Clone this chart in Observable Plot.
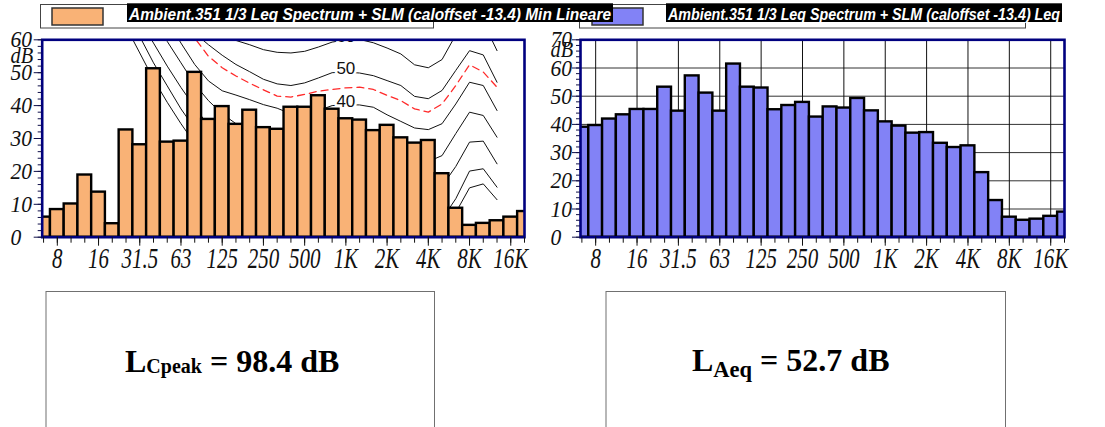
<!DOCTYPE html>
<html><head><meta charset="utf-8">
<script src="https://cdn.jsdelivr.net/npm/d3@7"></script>
<script src="https://cdn.jsdelivr.net/npm/@observablehq/plot@0.6"></script>
<style>
html,body{margin:0;padding:0;background:#fff;}
body{width:1105px;height:427px;overflow:hidden;position:relative;}
.abs{position:absolute;}
svg{overflow:visible;}
</style></head><body>
<div id="left" class="abs" style="left:0;top:0"></div>
<div id="right" class="abs" style="left:540px;top:0"></div>
<svg id="overlay" class="abs" width="1105" height="427" style="left:0;top:0;pointer-events:none"></svg>
<script>
// ---------------- data ----------------
const bands = ["6.3","8","10","12.5","16","20","25","31.5","40","50","63","80","100","125","160","200","250","315","400","500","630","800","1K","1.25K","1.6K","2K","2.5K","3.15K","4K","5K","6.3K","8K","10K","12.5K","16K","20K"];
const octaveLabels = ["8","16","31.5","63","125","250","500","1K","2K","4K","8K","16K"];
const minLineare = [6.1,8.4,10.1,18.9,13.7,4.1,32.6,28.1,51.2,28.9,29.2,50.1,35.8,39.7,34.3,38.6,33.3,32.8,39.5,39.5,43.0,38.9,36.0,35.6,32.4,34.0,30.2,28.6,29.4,19.3,8.8,3.6,4.2,5.0,6.1,7.8];
const leq = [39.0,39.6,41.9,43.4,45.3,45.3,53.2,44.7,57.2,51.1,44.7,61.4,53.2,52.9,45.2,46.7,47.8,42.6,46.2,45.8,49.2,44.8,40.9,39.4,36.9,37.1,33.3,31.8,32.4,22.9,13.0,7.1,6.0,6.4,7.4,8.9];
// equal-loudness style contours, 20 Hz .. 12.5 kHz
const contourBands = ["20","25","31.5","40","50","63","80","100","125","160","200","250","315","400","500","630","800","1K","1.25K","1.6K","2K","2.5K","3.15K","4K","5K","6.3K","8K","10K","12.5K"];
const phon60 = [104,97,90,83,77,71,66,63,61,59.8,58.5,57.0,56.2,56.0,56.5,57.8,59.3,60.0,60.1,59.1,57.5,55.7,52.4,51.5,54.0,61.5,66.7,65.4,56.7];
const phon50 = [98,90,83,76,70,65.5,62,58.5,55.3,52.5,50.3,48.0,46.6,46.1,46.9,48.4,50.0,50.2,49.9,49.1,47.6,46.1,42.8,42.1,44.6,50.7,56.7,55.4,47.1];
const redCurve = [95,88,81,75,70,66,60.5,55,51.5,49,46.8,44.8,42.9,42.6,43.4,44.4,44.9,45.4,45.6,44.9,43.1,41.5,39.0,38.0,40.5,46.1,52.4,50.2,45.6];
const phon40 = [92,84,77,71.5,66,59,52.5,47.5,44.5,43.2,41.8,40.3,39.2,37.5,37.5,38.5,40.0,40.3,40.2,39.5,37.2,35.2,33.2,32.7,34.5,40.5,47.1,46.1,38.5];
const phon30 = [87,79,72,65,59.5,53,46.5,41.5,37.5,34.5,32.5,31,29.5,28.5,28,28.8,30,30.2,30,29.2,27.5,25.5,23.5,23.0,24.8,31.5,38,37,30.4];
const phon20 = [82,74,66,59,52,45.5,39.5,34,29.5,26,23.5,21.5,20,19,18.5,19,20,20.2,20,19,17.5,15.5,13.5,13,15.5,21.5,28.9,29.2,22.3];
const phon10 = [77,69,61,53,46,39,33,27,22.5,18.5,15.5,13.5,12,10.5,10,10,10,10.2,10,9,7.5,5.5,3.5,3,5.5,11.7,20.1,20.8,15.2];
const threshold = [73,64,56,48,41,34.5,28.5,23,18.5,14.5,11.5,9.5,8,6.5,5.5,5,5,5,5,4,2.5,0.5,-1,-1.5,0.5,7.5,15,16.2,11.4];
const contourLabels = [{band:"1K", curve:"60"},{band:"1K", curve:"50"},{band:"1K", curve:"40"}];
const legendLeft = "Ambient.351 1/3 Leq Spectrum + SLM (caloffset -13.4) Min Lineare";
const legendRight = "Ambient.351 1/3 Leq Spectrum + SLM (caloffset -13.4) Leq";

// ---------------- helpers ----------------
const idx = new Map(bands.map((b,i)=>[b,i]));
const allIdx = bands.map((b,i)=>i);
const majorIdx = octaveLabels.map(l=>idx.get(l));
const navy = "#00007f";
const orange = "#f9b276", blue = "#8282f6";
const serif = "Liberation Serif, Times New Roman, serif";
const barData = vals => vals.map((v,i)=>({i, v}));
const curveData = arr => contourBands.map((b,k)=>({i: idx.get(b), v: arr[k]}));
const curves = {"60":phon60,"50":phon50,"40":phon40};

// horizontally condense text glyphs (keeps anchor position)
function squeeze(svg, label, s){
  svg.querySelectorAll(`text[aria-label="${label}"]`).forEach(t=>{
    let tr = t.getAttribute("transform") || "";
    const x = t.getAttribute("x");
    if (x !== null && !/em$/.test(x)) { tr = `translate(${x},0) ` + tr; t.removeAttribute("x"); }
    const y = t.getAttribute("y");
    if (y !== null && !/em$/.test(y)) { tr = `translate(0,${y}) ` + tr; t.removeAttribute("y"); }
    t.setAttribute("transform", tr + ` scale(${s},1)`);
  });
}

function chart({values, yMax, fill, marginLeft, contours, grid}){
  const yTicks = d3.range(0, yMax+1, 10);
  const marks = [];
  if (grid) {
    marks.push(Plot.ruleY(yTicks.filter(d=>d>0 && d<yMax), {y:d=>d, stroke:"#333", strokeWidth:1}));
    marks.push(Plot.ruleX(majorIdx, {x:d=>d, stroke:"#111", strokeWidth:1}));
  }
  if (contours) {
    for (const arr of [threshold, phon10, phon20, phon30, phon40, phon50, phon60])
      marks.push(Plot.line(curveData(arr), {x:"i", y:"v", stroke:"#111", strokeWidth:1, clip:true}));
    marks.push(Plot.line(curveData(redCurve), {x:"i", y:"v", stroke:"#ff2a2a", strokeWidth:1.3, strokeDasharray:"7,5", clip:true}));
    marks.push(Plot.text(contourLabels, {x:d=>idx.get(d.band), y:d=>curves[d.curve][contourBands.indexOf(d.band)], text:"curve",
      lineAnchor:"bottom", dy:2, fontSize:17, fontFamily:"Liberation Sans, Arial, sans-serif", fill:"#111",
      stroke:"white", strokeWidth:5, clip:true}));
  }
  marks.push(Plot.rect(barData(values), {x1:d=>d.i-0.5, x2:d=>d.i+0.5, y1:0, y2:"v", fill, stroke:"#000", strokeWidth:2.4, clip:true}));
  marks.push(Plot.frame({stroke:navy, strokeWidth:2.6}));
  marks.push(Plot.axisX(allIdx, {tickSize:6, tickFormat:()=>"", stroke:"#111", label:null}));
  marks.push(Plot.axisX(majorIdx, {tickSize:9, tickFormat:()=>"", stroke:"#111", label:null}));
  marks.push(Plot.axisY(d3.range(0, yMax+1, 2), {tickSize:4, tickFormat:()=>"", stroke:"#10104a", label:null}));
  marks.push(Plot.axisY(yTicks, {tickSize:8, tickFormat:()=>"", stroke:"#10104a", label:null}));
  marks.push(Plot.text(majorIdx, {x:d=>d, text:(d,i)=>octaveLabels[i], frameAnchor:"bottom", lineAnchor:"top", dy:9,
      fontSize:30, fontStyle:"italic", fontFamily:serif, fill:"#111", ariaLabel:()=>"xlab"}));
  marks.push(Plot.text(yTicks, {y:d=>d, text:d=>String(d), frameAnchor:"left", textAnchor:"start", lineAnchor:"middle", dx:10-marginLeft,
      fontSize:24, fontStyle:"italic", fontFamily:serif, fill:"#111", ariaLabel:()=>"ylab"}));
  marks.push(Plot.text(["dB"], {frameAnchor:"top-left", textAnchor:"start", lineAnchor:"middle", dx:10-marginLeft, dy: yMax===60?16:10,
      fontSize:24, fontStyle:"italic", fontFamily:serif, fill:"#111", ariaLabel:()=>"dblab"}));
  const svg = Plot.plot({
    width:540, height:280, marginLeft, marginRight:16, marginTop:39.3, marginBottom:43.3,
    x:{domain:[-0.1,35], axis:null, label:null}, y:{domain:[0,yMax], axis:null, label:null},
    style:{background:"transparent", fontFamily:serif, overflow:"visible"},
    marks
  });
  squeeze(svg, "xlab", 0.7);
  squeeze(svg, "ylab", 0.9);
  squeeze(svg, "dblab", 0.85);
  return svg;
}

document.getElementById("left").appendChild(chart({values:minLineare, yMax:60, fill:orange, marginLeft:41.7, contours:true}));
document.getElementById("right").appendChild(chart({values:leq, yMax:70, fill:blue, marginLeft:40, grid:true}));

// ---------------- legend + value boxes ----------------
const ov = d3.select("#overlay");
function legendBox(boxX, boxW, swX, col){
  ov.append("rect").attr("x",boxX+0.5).attr("y",4.5).attr("width",boxW).attr("height",23.5).attr("fill","none").attr("stroke","#444");
  ov.append("rect").attr("x",swX).attr("y",8).attr("width",51).attr("height",17).attr("fill",col).attr("stroke","#333").attr("stroke-width",1.5);
}
function legendText(txtX, txtW, label){
  ov.append("rect").attr("x",txtX).attr("y",3.3).attr("width",txtW).attr("height",18.7).attr("fill","#000");
  ov.append("text").attr("x",txtX+2).attr("y",19.7).attr("fill","#fff")
    .attr("font-family","Liberation Sans, Arial, sans-serif").attr("font-weight","bold").attr("font-style","italic").attr("font-size",16)
    .attr("textLength",txtW-4).attr("lengthAdjust","spacingAndGlyphs").text(label);
}
legendBox(40, 393, 52, orange);
legendBox(579, 446, 592, blue);
legendText(666, 396, legendRight);
legendText(127, 486, legendLeft);

function valueBox(x, w, tx, ty, sub, subSize, subDy, rest){
  ov.append("rect").attr("x",x+0.5).attr("y",291.5).attr("width",w).attr("height",160).attr("fill","none").attr("stroke","#707070");
  const t = ov.append("text").attr("x",tx).attr("y",ty).attr("font-family",serif).attr("font-weight","bold").attr("font-size",32).attr("fill","#000");
  t.append("tspan").text("L");
  t.append("tspan").attr("font-size",subSize).attr("dy",subDy).text(sub);
  t.append("tspan").attr("dy",-subDy).text(" " + rest);
}
valueBox(45.5, 388.5, 125, 372.3, "Cpeak", 20, 1, "= 98.4 dB");
valueBox(605.5, 399.5, 692, 370.7, "Aeq", 22.5, 6, "= 52.7 dB");
</script>
</body></html>
